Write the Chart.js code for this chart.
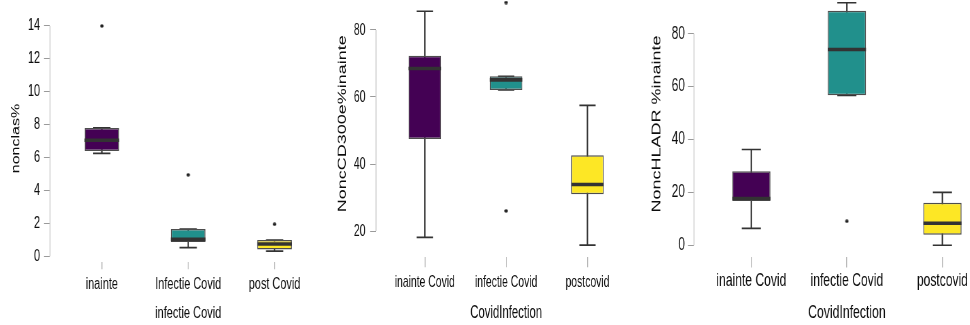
<!DOCTYPE html>
<html>
<head>
<meta charset="utf-8">
<script src="https://cdn.jsdelivr.net/npm/chart.js@4.4.1/dist/chart.umd.min.js"></script>
<style>
html,body{margin:0;padding:0;background:#fff;overflow:hidden;width:970px;height:325px;position:relative}
.panel{position:absolute;transform-origin:0 0}
.panel canvas{position:absolute;left:0;top:0}
</style>
</head>
<body>
<script>
// ---------- DATA ----------
const boxColors = ['#440154', '#21908C', '#FDE725'];

// Panel 1
const p1Categories = ['inainte', 'Infectie Covid', 'post Covid'];
const p1Lower   = [6.25, 0.53, 0.32];
const p1Q1      = [6.40, 0.87, 0.41];
const p1Median  = [7.05, 1.03, 0.75];
const p1Q3      = [7.80, 1.66, 0.99];
const p1Upper   = [7.80, 1.66, 0.99];
const p1Outliers = [[14.0], [4.95], [1.95]];
const p1YTicks  = [0, 2, 4, 6, 8, 10, 12, 14];
const p1YTitle  = 'nonclas%';
const p1XTitle  = 'infectie Covid';

// Panel 2
const p2Categories = ['inainte Covid', 'infectie Covid', 'postcovid'];
const p2Lower   = [18.1, 62.1, 15.8];
const p2Q1      = [47.5, 62.1, 31.0];
const p2Median  = [68.5, 65.1, 33.9];
const p2Q3      = [72.3, 66.2, 42.6];
const p2Upper   = [85.6, 66.2, 57.5];
const p2Outliers = [[], [88.2, 26.0], []];
const p2YTicks  = [20, 40, 60, 80];
const p2YTitle  = 'NoncCD300e%inainte';
const p2XTitle  = 'CovidInfection';

// Panel 3
const p3Categories = ['inainte Covid', 'infectie Covid', 'postcovid'];
const p3Lower   = [6.4, 56.7, 0.0];
const p3Q1      = [16.7, 56.7, 4.0];
const p3Median  = [17.7, 74.0, 8.3];
const p3Q3      = [28.0, 88.7, 16.1];
const p3Upper   = [36.2, 91.7, 20.0];
const p3Outliers = [[], [9.1], []];
const p3YTicks  = [0, 20, 40, 60, 80];
const p3YTitle  = 'NoncHLADR %inainte';
const p3XTitle  = 'CovidInfection';

// ---------- LAYOUT / STYLE ----------
const OFF = 40;       // canvas top offset (px above the window)
const H = 365;
const FONT = "'Liberation Sans', Arial, sans-serif";
const TXT = '#0d0d0d';

function makeDot(sx) {
  const dot = document.createElement('canvas');
  dot.width = 6; dot.height = 4;
  const c = dot.getContext('2d');
  c.fillStyle = '#222';
  c.beginPath();
  c.ellipse(3, 2, Math.min(2.9, 1.75 / sx), 1.75, 0, 0, Math.PI * 2);
  c.fill();
  return dot;
}

const axisLinePlugin = {
  id: 'axisLine',
  afterDraw(chart) {
    const y = chart.scales.y;
    const t = y.ticks;
    const ctx = chart.ctx;
    const x = chart.chartArea.left;
    ctx.save();
    ctx.strokeStyle = '#cfcfcf';
    ctx.lineWidth = 1.6;
    ctx.beginPath();
    ctx.moveTo(x, y.getPixelForValue(t[0].value));
    ctx.lineTo(x, y.getPixelForValue(t[t.length - 1].value));
    ctx.stroke();
    ctx.restore();
  }
};

function makePanel(spec, d) {
  const SX = spec.sx;
  const W = Math.round((spec.right - spec.left) / SX);
  const holder = document.createElement('div');
  holder.className = 'panel';
  holder.style.left = spec.left + 'px';
  holder.style.top = (-OFF) + 'px';
  holder.style.width = W + 'px';
  holder.style.height = H + 'px';
  holder.style.transform = 'scaleX(' + SX + ')';
  const canvas = document.createElement('canvas');
  canvas.width = W;
  canvas.height = H;
  holder.appendChild(canvas);
  document.body.appendChild(holder);

  const n = d.cats.length;
  const all = [].concat(d.lower, d.upper, d.q1, d.q3, ...d.outliers);
  const lo = Math.min(...all), hi = Math.max(...all);
  const pad = (hi - lo) * 0.05;

  const tickLH = spec.tickFont * 1.2;
  const yTitleLH = spec.yTitleFont * 1.2;
  const xTitleLH = spec.xTitleFont * 1.2;
  const lw = w => w / SX;   // width of a vertical stroke, in final px

  const idx = d.cats.map((c, i) => i);
  const datasets = [
    {
      type: 'bar', order: 2,
      data: idx.map(i => ({x: i, y: [d.q1[i], d.q3[i]]})),
      backgroundColor: boxColors, borderColor: '#4d4d4d', borderWidth: 1.5,
      borderSkipped: false, barPercentage: 0.4, categoryPercentage: 1
    },
    {
      type: 'line', order: 3,
      data: idx.flatMap(i => [{x: i, y: d.lower[i]}, {x: i, y: d.upper[i]}, {x: i, y: null}]),
      borderColor: '#333', borderWidth: lw(1.5), pointRadius: 0, fill: false, tension: 0
    },
    {
      type: 'line', order: 3,
      data: idx.flatMap(i => [
        {x: i - 0.1, y: d.upper[i]}, {x: i + 0.1, y: d.upper[i]}, {x: i, y: null},
        {x: i - 0.1, y: d.lower[i]}, {x: i + 0.1, y: d.lower[i]}, {x: i, y: null}]),
      borderColor: '#333', borderWidth: 1.7, pointRadius: 0, fill: false, tension: 0
    },
    {
      type: 'line', order: 1,
      data: idx.flatMap(i => [{x: i - 0.2, y: d.median[i]}, {x: i + 0.2, y: d.median[i]}, {x: i, y: null}]),
      borderColor: '#333', borderWidth: 3.6, pointRadius: 0, fill: false, tension: 0
    },
    {
      type: 'line', order: 0, showLine: false,
      data: idx.flatMap(i => d.outliers[i].map(v => ({x: i, y: v}))),
      pointStyle: makeDot(SX), pointRadius: 2, pointHoverRadius: 2
    }
  ];

  new Chart(canvas, {
    type: 'bar',
    data: {datasets},
    plugins: [axisLinePlugin],
    options: {
      responsive: false, animation: false, devicePixelRatio: 1,
      events: [],
      layout: {padding: {top: spec.top + OFF, left: 0, right: 0, bottom: 0}},
      plugins: {legend: {display: false}, tooltip: {enabled: false}},
      scales: {
        x: {
          type: 'linear', offset: false, min: -0.6, max: n - 1 + 0.6,
          afterBuildTicks: s => { s.ticks = idx.map(i => ({value: i})); },
          afterFit: s => { s.height = H - (spec.bottom + OFF); },
          ticks: {
            callback: v => d.cats[v], autoSkip: false, maxRotation: 0, minRotation: 0,
            padding: spec.xLabelY - spec.bottom - spec.xTickLen - tickLH / 2,
            color: TXT, font: {size: spec.tickFont, family: FONT}
          },
          grid: {display: true, drawOnChartArea: false, drawTicks: true, offset: false,
                 tickLength: spec.xTickLen, color: '#b5b5b5', lineWidth: lw(1)},
          border: {display: false},
          title: {display: true, text: d.xTitle, color: TXT,
                  font: {size: spec.xTitleFont, family: FONT},
                  padding: {top: 0, bottom: H - (spec.xTitleY + OFF) - xTitleLH / 2}}
        },
        y: {
          type: 'linear', min: lo - pad, max: hi + pad, beginAtZero: false,
          afterBuildTicks: s => { s.ticks = d.yTicks.map(v => ({value: v})); },
          afterFit: s => { s.width = (spec.axis - spec.left) / SX; },
          ticks: {padding: (spec.axis - 6 - spec.yLabelRight) / SX, color: TXT,
                  font: {size: spec.tickFont, family: FONT}},
          grid: {display: true, drawOnChartArea: false, drawTicks: true,
                 tickLength: 6 / SX, color: '#9a9a9a', lineWidth: 1},
          border: {display: false},
          title: {display: true, text: d.yTitle, color: TXT,
                  font: {size: spec.yTitleFont, family: FONT},
                  padding: {top: (spec.titleX - spec.left) / SX - yTitleLH / 2, bottom: 0}}
        }
      }
    }
  });
}

makePanel(
  {sx: 0.69, tickFont: 15.8, yTitleFont: 16, xTitleFont: 16,
   left: 0, axis: 50, right: 328.2, top: 14.7, bottom: 262.3, titleX: 16, yLabelRight: 40,
   xTickLen: 7, xLabelY: 285, xTitleY: 314},
  {cats: p1Categories, lower: p1Lower, q1: p1Q1, median: p1Median, q3: p1Q3, upper: p1Upper,
   outliers: p1Outliers, yTicks: p1YTicks, yTitle: p1YTitle, xTitle: p1XTitle});

makePanel(
  {sx: 0.63, tickFont: 16.5, yTitleFont: 18, xTitleFont: 18,
   left: 320, axis: 376, right: 638.2, top: -9.6, bottom: 257.2, titleX: 343, yLabelRight: 365.5,
   xTickLen: 10, xLabelY: 282, xTitleY: 313},
  {cats: p2Categories, lower: p2Lower, q1: p2Q1, median: p2Median, q3: p2Q3, upper: p2Upper,
   outliers: p2Outliers, yTicks: p2YTicks, yTitle: p2YTitle, xTitle: p2XTitle});

makePanel(
  {sx: 0.68, tickFont: 17.8, yTitleFont: 18, xTitleFont: 18,
   left: 640, axis: 694, right: 1001.6, top: -9.4, bottom: 257.4, titleX: 656.7, yLabelRight: 685,
   xTickLen: 10, xLabelY: 281, xTitleY: 313},
  {cats: p3Categories, lower: p3Lower, q1: p3Q1, median: p3Median, q3: p3Q3, upper: p3Upper,
   outliers: p3Outliers, yTicks: p3YTicks, yTitle: p3YTitle, xTitle: p3XTitle});
</script>
</body>
</html>
